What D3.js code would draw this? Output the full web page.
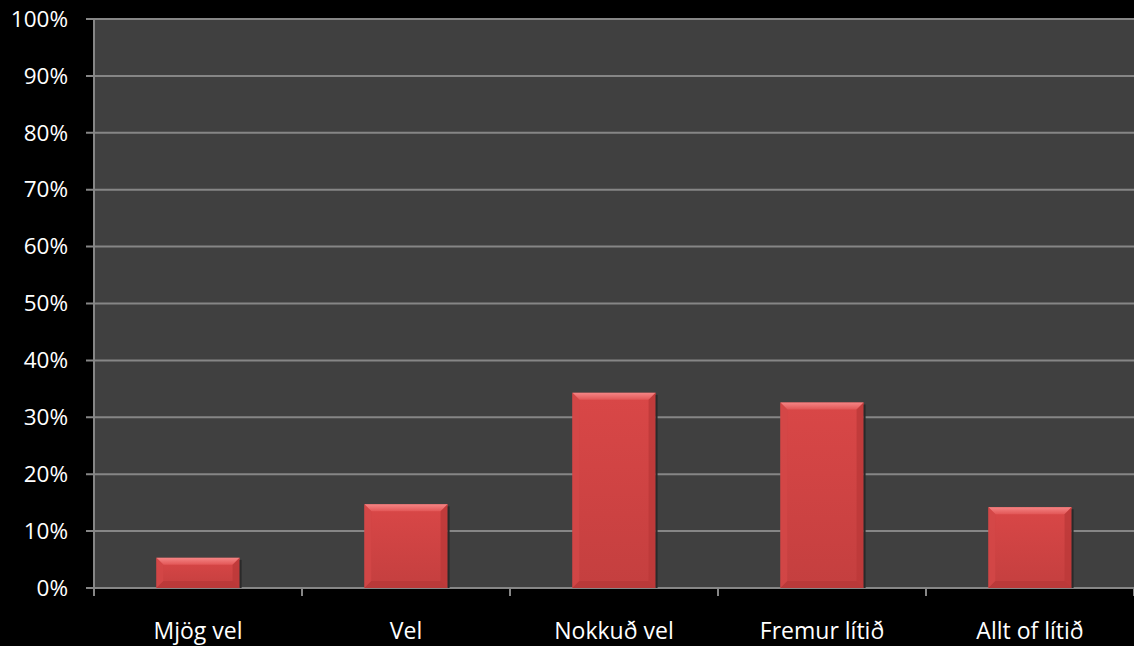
<!DOCTYPE html>
<html><head><meta charset="utf-8">
<script src="https://cdn.jsdelivr.net/npm/d3@7"></script>
<style>html,body{margin:0;padding:0;background:#000;overflow:hidden}</style>
</head><body>
<svg id="c" width="1134" height="646"></svg>
<script>
const categories = ["Mjög vel", "Vel", "Nokkuð vel", "Fremur lítið", "Allt of lítið"];
const values = [0.053, 0.147, 0.343, 0.326, 0.142];
const yTicks = [0,0.1,0.2,0.3,0.4,0.5,0.6,0.7,0.8,0.9,1.0];

const W = 1134, H = 646;
const m = {left: 94, right: 0, top: 19, bottom: 58};
const svg = d3.select("#c");
svg.append("rect").attr("width", W).attr("height", H).attr("fill", "#000");

const x = d3.scaleBand().domain(categories).range([m.left, W - m.right]).paddingInner(0.6).paddingOuter(0.3);
const y = d3.scaleLinear().domain([0, 1]).range([H - m.bottom, m.top]);

const font = "'Open Sans', Lato, sans-serif";

svg.append("rect").attr("x", m.left).attr("y", m.top).attr("width", W - m.right - m.left)
  .attr("height", y(0) - m.top).attr("fill", "#404040");

// gridlines
svg.append("g").selectAll("line").data(yTicks).join("line")
  .attr("x1", m.left - 8).attr("x2", W - m.right)
  .attr("y1", d => y(d)).attr("y2", d => y(d))
  .attr("stroke", "#868686").attr("stroke-width", 2);

// y axis
const ya = svg.append("g").attr("transform", `translate(${m.left},0)`)
  .call(d3.axisLeft(y).tickValues(yTicks).tickFormat(d3.format(".0%")).tickSize(0).tickPadding(26));
ya.select(".domain").remove();
ya.selectAll("text").attr("fill", "#fff").attr("font-size", 22.5).attr("font-family", font);

svg.append("line").attr("x1", m.left).attr("x2", m.left).attr("y1", m.top).attr("y2", y(0) + 8)
  .attr("stroke", "#868686").attr("stroke-width", 2);

// x axis
const bounds = categories.map(c => x(c) - x.step() * x.paddingInner() / 2 + x.step());
svg.append("g").selectAll("line").data(bounds).join("line")
  .attr("x1", d => d).attr("x2", d => d).attr("y1", y(0)).attr("y2", y(0) + 8)
  .attr("stroke", "#868686").attr("stroke-width", 2);

svg.append("g").selectAll("text").data(categories).join("text")
  .attr("x", d => x(d) + x.bandwidth() / 2).attr("y", H - 7)
  .attr("text-anchor", "middle").attr("fill", "#fff").attr("font-size", 23).attr("font-family", font)
  .text(d => d);

// bars gradient
const defs = svg.append("defs");
const g1 = defs.append("linearGradient").attr("id", "bg").attr("x1", 0).attr("y1", 0).attr("x2", 0).attr("y2", 1);
g1.append("stop").attr("offset", "0%").attr("stop-color", "#d94747");
g1.append("stop").attr("offset", "100%").attr("stop-color", "#c43f3f");
const g2 = defs.append("linearGradient").attr("id", "tb").attr("x1", 0).attr("y1", 0).attr("x2", 0).attr("y2", 1);
g2.append("stop").attr("offset", "0%").attr("stop-color", "#f58585");
g2.append("stop").attr("offset", "100%").attr("stop-color", "#e25656");

const bars = svg.append("g").selectAll("g").data(categories.map((c, i) => ({c, v: values[i]}))).join("g");
const bv = 7;
bars.each(function(d) {
  const g = d3.select(this);
  const x0 = x(d.c), x1 = x0 + x.bandwidth(), y0 = y(d.v), y1 = y(0);
  const b = Math.min(bv, (y1 - y0) / 2);
  g.append("rect").attr("x", x0).attr("y", y0).attr("width", x1 - x0).attr("height", y1 - y0).attr("fill", "url(#bg)");
  g.append("polygon").attr("points", [[x0,y0],[x1,y0],[x1-b,y0+b],[x0+b,y0+b]].join(" ")).attr("fill", "url(#tb)");
  g.append("polygon").attr("points", [[x0,y0],[x0+b,y0+b],[x0+b,y1-b],[x0,y1]].join(" ")).attr("fill", "#d34747").attr("opacity", 0.8);
  g.append("polygon").attr("points", [[x1,y0],[x1-b,y0+b],[x1-b,y1-b],[x1,y1]].join(" ")).attr("fill", "#bb3838").attr("opacity", 0.8);
  g.append("polygon").attr("points", [[x0,y1],[x0+b,y1-b],[x1-b,y1-b],[x1,y1]].join(" ")).attr("fill", "#b33636").attr("opacity", 0.6);
  g.append("line").attr("x1", x1 + 1).attr("x2", x1 + 1).attr("y1", y0 + 2).attr("y2", y1).attr("stroke", "#2a2a2a").attr("stroke-width", 2);
});
</script>
</body></html>
